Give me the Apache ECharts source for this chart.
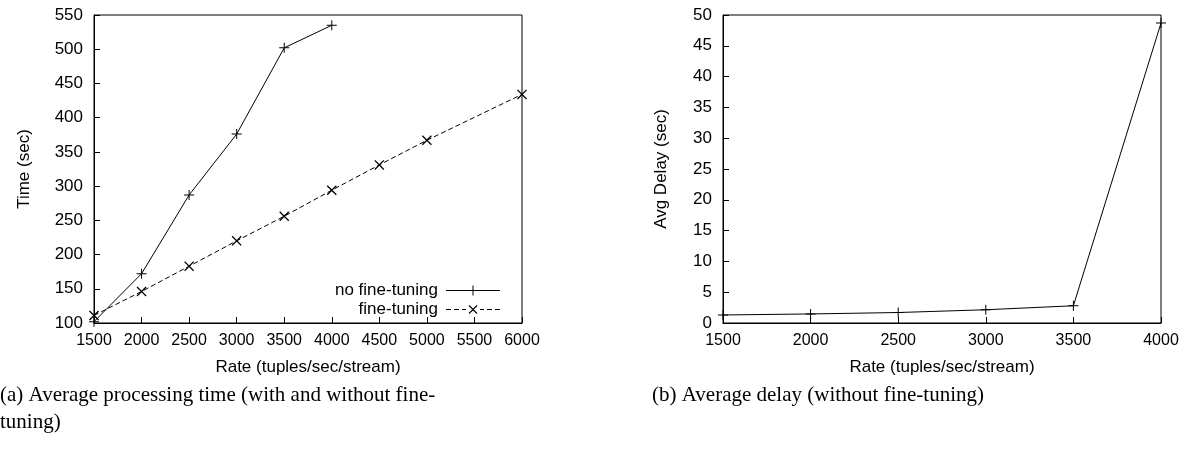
<!DOCTYPE html>
<html>
<head>
<meta charset="utf-8">
<script src="https://cdn.jsdelivr.net/npm/echarts@6/dist/echarts.min.js"></script>
<style>
  html, body { margin: 0; padding: 0; background: #fff; }
  #chart { width: 1192px; height: 454px; }
</style>
</head>
<body>
<div id="chart"></div>
<script>
// Processing time vs. input rate, with and without fine-tuning
const rateNoTuning = [1500, 2000, 2500, 3000, 3500, 4000];
const timeNoTuning = [102, 172, 287, 376, 502, 535];
const rateTuning = [1500, 2000, 2500, 3000, 3500, 4000, 4500, 5000, 6000];
const timeTuning = [111, 146, 183, 220, 256, 294, 331, 367, 434];

// Average delay vs. input rate (without fine-tuning)
const rateDelay = [1500, 2000, 2500, 3000, 3500, 4000];
const avgDelay = [1.3, 1.47, 1.7, 2.15, 2.8, 48.7];

const seriesNames = ['no fine-tuning', 'fine-tuning'];
const captionA = '(a) Average processing time (with and without fine-\ntuning)';
const captionB = '(b) Average delay (without fine-tuning)';

const pair = (xs, ys) => xs.map((x, i) => [x, ys[i]]);

// gnuplot-style point glyphs built from thin filled strokes
const PLUS = 'path://M0 4.5H10V5.5H0Z M4.5 0H5.5V10H4.5Z';
const CROSS = 'path://M0.6 1.4L1.4 0.6L9.4 8.6L8.6 9.4Z M8.6 0.6L9.4 1.4L1.4 9.4L0.6 8.6Z';
// legend samples: line with the point glyph in the middle
const KEY_SOLID = 'path://M0 4.5H54V5.5H0Z M26.5 0H27.5V10H26.5Z';
const KEY_DASHED = 'path://M0 4.5H5V5.5H0Z M8 4.5H13V5.5H8Z M16 4.5H20V5.5H16Z ' +
  'M34 4.5H38V5.5H34Z M41 4.5H46V5.5H41Z M49 4.5H54V5.5H49Z ' +
  'M22.6 1.4L23.4 0.6L31.4 8.6L30.6 9.4Z M30.6 0.6L31.4 1.4L23.4 9.4L22.6 8.6Z';

const SANS = '"Liberation Sans", Arial, Helvetica, sans-serif';
const SERIF = '"Liberation Serif", "Times New Roman", serif';

function valueAxis(extra) {
  return Object.assign({
    type: 'value',
    axisLine: { show: true, onZero: false, lineStyle: { color: '#000', width: 1 } },
    axisTick: { show: true, inside: true, length: 6, lineStyle: { color: '#000', width: 1 } },
    splitLine: { show: false },
    nameLocation: 'middle',
    nameTextStyle: { fontFamily: SANS, fontSize: 17, color: '#000' }
  }, extra);
}

const plain = (v) => String(v);
const xLabel = { fontFamily: SANS, fontSize: 16, color: '#000', margin: 10, formatter: plain };
const yLabel = { fontFamily: SANS, fontSize: 17, color: '#000', margin: 11, formatter: plain };
const captionStyle = { fontFamily: SERIF, fontSize: 21, fontWeight: 'normal', color: '#000', lineHeight: 27 };

const option = {
  animation: false,
  backgroundColor: '#fff',
  title: [
    { text: captionA, left: 0, top: 382, padding: 0, textStyle: captionStyle },
    { text: captionB, left: 652, top: 382, padding: 0, textStyle: captionStyle }
  ],
  grid: [
    { left: 94, top: 15, width: 428, height: 308, show: true, borderColor: '#000', borderWidth: 1 },
    { left: 723, top: 15, width: 438, height: 308, show: true, borderColor: '#000', borderWidth: 1 }
  ],
  xAxis: [
    valueAxis({ gridIndex: 0, min: 1500, max: 6000, interval: 500,
      name: 'Rate (tuples/sec/stream)', nameGap: 36, axisLabel: xLabel }),
    valueAxis({ gridIndex: 1, min: 1500, max: 4000, interval: 500,
      name: 'Rate (tuples/sec/stream)', nameGap: 36, axisLabel: xLabel })
  ],
  yAxis: [
    valueAxis({ gridIndex: 0, min: 100, max: 550, interval: 50,
      name: 'Time (sec)', nameGap: 61, axisLabel: yLabel }),
    valueAxis({ gridIndex: 1, min: 0, max: 50, interval: 5,
      name: 'Avg Delay (sec)', nameGap: 53, axisLabel: yLabel })
  ],
  legend: {
    data: [
      { name: seriesNames[0], icon: KEY_SOLID },
      { name: seriesNames[1], icon: KEY_DASHED }
    ],
    orient: 'vertical',
    align: 'right',
    right: 692,
    top: 282,
    itemWidth: 54,
    itemHeight: 10,
    itemGap: 2,
    padding: 0,
    selectedMode: false,
    itemStyle: { color: '#000', borderWidth: 0 },
    textStyle: { fontFamily: SANS, fontSize: 17, color: '#000', padding: [0, 3, 0, 0] }
  },
  series: [
    {
      name: seriesNames[0], type: 'line', xAxisIndex: 0, yAxisIndex: 0,
      data: pair(rateNoTuning, timeNoTuning),
      symbol: PLUS, symbolSize: 10, showSymbol: true,
      itemStyle: { color: '#000', borderWidth: 0 },
      lineStyle: { color: '#000', width: 1 },
      emphasis: { disabled: true }
    },
    {
      name: seriesNames[1], type: 'line', xAxisIndex: 0, yAxisIndex: 0,
      data: pair(rateTuning, timeTuning),
      symbol: CROSS, symbolSize: 10, showSymbol: true,
      itemStyle: { color: '#000', borderWidth: 0 },
      lineStyle: { color: '#000', width: 1, type: [5, 3] },
      emphasis: { disabled: true }
    },
    {
      name: 'avg delay', type: 'line', xAxisIndex: 1, yAxisIndex: 1,
      data: pair(rateDelay, avgDelay),
      symbol: PLUS, symbolSize: 10, showSymbol: true,
      itemStyle: { color: '#000', borderWidth: 0 },
      lineStyle: { color: '#000', width: 1 },
      emphasis: { disabled: true }
    }
  ]
};

const chart = echarts.init(document.getElementById('chart'), null, { renderer: 'canvas' });
chart.setOption(option);
</script>
</body>
</html>
